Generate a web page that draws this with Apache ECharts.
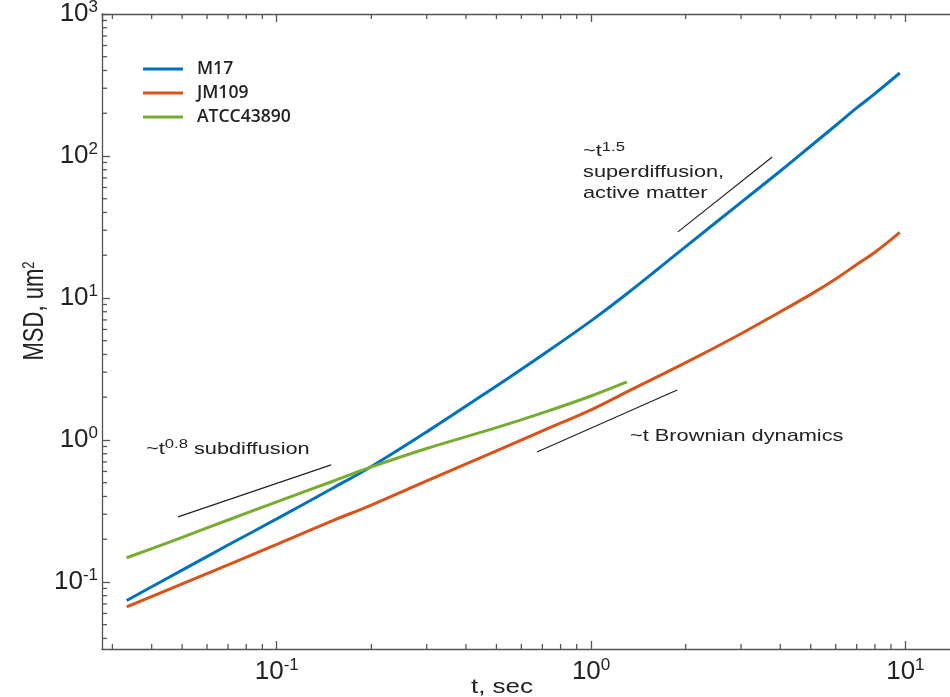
<!DOCTYPE html>
<html>
<head>
<meta charset="utf-8">
<title>MSD vs t</title>
<script src="https://cdn.jsdelivr.net/npm/echarts@6/dist/echarts.min.js"></script>
<style>
  html, body { margin: 0; padding: 0; background: #fff; }
  #chart { width: 950px; height: 697px; }
</style>
</head>
<body>
<div id="chart"></div>
<script>
  // lag time, sec
  var tValues = [0.0333, 0.05, 0.07, 0.1, 0.15, 0.2, 0.3, 0.5, 0.7, 1, 1.3, 2, 3, 4, 5, 6, 7, 8, 9.6];
  // MSD, um^2
  var m17 = [0.074, 0.121, 0.182, 0.278, 0.455, 0.65, 1.14, 2.4, 3.97, 6.9, 10.7, 23.0, 47.1, 78.4, 117.6, 164, 218, 275, 384];
  var jm109 = [0.0667, 0.0968, 0.132, 0.184, 0.269, 0.348, 0.514, 0.837, 1.16, 1.63, 2.18, 3.5, 5.6, 8.0, 10.6, 13.6, 17.2, 21, 29];
  var atcc43890 = [0.148, 0.206, 0.273, 0.366, 0.51, 0.646, 0.871, 1.22, 1.55, 2.04, 2.56]; // stops at 1.3 s

  // reference slopes [t, msd]
  var guideSub = [[0.0485, 0.287], [0.149, 0.667]];
  var guideSuper = [[1.89, 29.2], [3.77, 98.4]];
  var guideBrown = [[0.673, 0.823], [1.88, 2.25]];

  var xMinorTicks = [0.03, 0.04, 0.05, 0.06, 0.07, 0.08, 0.09, 0.2, 0.3, 0.4, 0.5, 0.6, 0.7, 0.8, 0.9, 2, 3, 4, 5, 6, 7, 8, 9];
  var yMinorTicks = [0.04, 0.05, 0.06, 0.07, 0.08, 0.09, 0.2, 0.3, 0.4, 0.5, 0.6, 0.7, 0.8, 0.9,
    2, 3, 4, 5, 6, 7, 8, 9, 20, 30, 40, 50, 60, 70, 80, 90, 200, 300, 400, 500, 600, 700, 800, 900];

  var X_MIN = 0.0278, X_MAX = 20;
  var Y_MIN = 0.0337, Y_MAX = 1000;
  var AXIS_COLOR = '#555';
  var FONT = 'Liberation Sans, Arial, sans-serif';

  function pairs(xs, ys) {
    return ys.map(function (y, i) { return [xs[i], y]; });
  }

  function powerLabel(v) {
    var e = Math.log(v) / Math.LN10;
    var r = Math.round(e);
    if (Math.abs(e - r) > 1e-6) return '';
    return '{b|10}{sup|' + r + '}';
  }

  var labelRich = {
    b: { fontSize: 26, lineHeight: 30, color: '#222', fontFamily: FONT },
    sup: { fontSize: 17, lineHeight: 18, verticalAlign: 'top', color: '#222', fontFamily: FONT }
  };

  var chart = echarts.init(document.getElementById('chart'));

  function lineSeries(name, data, color) {
    return {
      name: name,
      type: 'line',
      data: data,
      showSymbol: false,
      smooth: 0.4,
      lineStyle: { color: color, width: 3 },
      itemStyle: { color: color },
      z: 3
    };
  }

  function guideSeries(data) {
    return {
      type: 'line',
      data: data,
      showSymbol: false,
      silent: true,
      lineStyle: { color: '#222', width: 1.2 },
      z: 2
    };
  }

  // minor ticks: thin rect symbols placed on the frame through the axes' scales
  function tickSeries(data, size, offset) {
    return {
      type: 'scatter',
      data: data,
      symbol: 'rect',
      symbolSize: size,
      symbolOffset: offset,
      silent: true,
      clip: false,
      itemStyle: { color: AXIS_COLOR, opacity: 1 },
      z: 6
    };
  }

  var annoRich = {
    sup: { fontSize: 13, lineHeight: 14, verticalAlign: 'top', fontFamily: FONT, fill: '#222' }
  };

  var majorTick = { show: true, inside: true, length: 8, lineStyle: { color: AXIS_COLOR, width: 1.3 } };
  var frameLine = { show: true, lineStyle: { color: AXIS_COLOR, width: 1.3 } };

  var option = {
    backgroundColor: '#fff',
    animation: false,
    grid: { left: 102, top: 14, right: -50, bottom: 48, outerBoundsMode: 'none' },
    legend: {
      orient: 'vertical',
      left: 143,
      top: 59,
      padding: 0,
      icon: 'rect',
      itemWidth: 40,
      itemHeight: 3,
      itemGap: 4,
      data: ['M17', 'JM109', 'ATCC43890'],
      textStyle: {
        fontFamily: 'Open Sans, sans-serif',
        fontWeight: 600,
        fontSize: 17.5,
        lineHeight: 20,
        color: '#222',
        padding: [0, 0, 0, 9]
      }
    },
    xAxis: [{
      type: 'log',
      min: X_MIN,
      max: X_MAX,
      axisLine: frameLine,
      axisTick: majorTick,
      axisLabel: { formatter: powerLabel, margin: 8, rich: labelRich, showMinLabel: false, showMaxLabel: false },
      splitLine: { show: false }
    }, {
      type: 'log',
      position: 'top',
      min: X_MIN,
      max: X_MAX,
      axisLine: frameLine,
      axisTick: majorTick,
      axisLabel: { show: false },
      splitLine: { show: false }
    }],
    yAxis: {
      type: 'log',
      min: Y_MIN,
      max: Y_MAX,
      axisLine: frameLine,
      axisTick: majorTick,
      axisLabel: { formatter: powerLabel, margin: 4, rich: labelRich, showMinLabel: false },
      splitLine: { show: false }
    },
    graphic: [
      {
        type: 'text', x: 35, y: 311, rotation: Math.PI / 2, scaleY: 1.3,
        style: { text: 'MSD, um{sup|2}', fontSize: 22, fontFamily: FONT, fill: '#222',
          align: 'center', verticalAlign: 'middle', rich: annoRich }
      },
      {
        type: 'text', x: 502, y: 687, scaleX: 1.3,
        style: { text: 't, sec', fontSize: 20, fontFamily: FONT, fill: '#222',
          align: 'center', verticalAlign: 'middle' }
      },
      {
        type: 'text', x: 146, y: 438, scaleX: 1.28,
        style: { text: '~t{sup|0.8} subdiffusion', fontSize: 17, lineHeight: 22, fontFamily: FONT,
          fill: '#222', rich: annoRich }
      },
      {
        type: 'text', x: 583, y: 141, scaleX: 1.28,
        style: { text: '~t{sup|1.5}\nsuperdiffusion,\nactive matter', fontSize: 17, lineHeight: 21,
          fontFamily: FONT, fill: '#222', rich: annoRich }
      },
      {
        type: 'text', x: 630, y: 425, scaleX: 1.28,
        style: { text: '~t Brownian dynamics', fontSize: 17, lineHeight: 22, fontFamily: FONT, fill: '#222' }
      }
    ],
    series: [
      lineSeries('M17', pairs(tValues, m17), '#0072BD'),
      lineSeries('JM109', pairs(tValues, jm109), '#D95319'),
      lineSeries('ATCC43890', pairs(tValues, atcc43890), '#77AC30'),
      guideSeries(guideSub),
      guideSeries(guideSuper),
      guideSeries(guideBrown),
      tickSeries(xMinorTicks.map(function (v) { return [v, Y_MIN]; }), [1.3, 5], [0, -2.5]),
      tickSeries(xMinorTicks.map(function (v) { return [v, Y_MAX]; }), [1.3, 5], [0, 2.5]),
      tickSeries(yMinorTicks.map(function (v) { return [X_MIN, v]; }), [5, 1.3], [2.5, 0])
    ]
  };

  chart.setOption(option);
</script>
</body>
</html>
